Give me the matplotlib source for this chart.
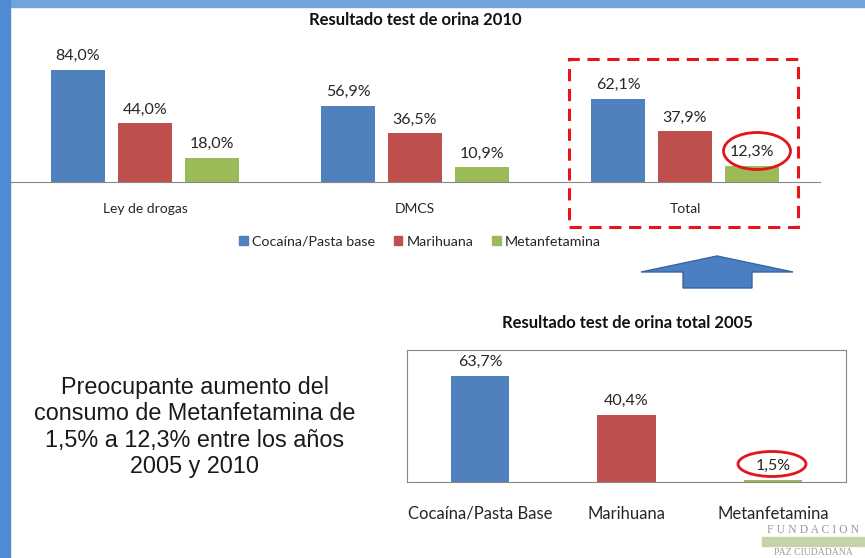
import numpy as np
import matplotlib
matplotlib.use("Agg")
import matplotlib.pyplot as plt
from matplotlib.patches import Rectangle, Ellipse, Polygon, Patch

# data
categories_2010 = ["Ley de drogas", "DMCS", "Total"]
cocaina_2010 = [84.0, 56.9, 62.1]
marihuana_2010 = [44.0, 36.5, 37.9]
metanfetamina_2010 = [18.0, 10.9, 12.3]
series_2010 = ["Cocaína/Pasta base", "Marihuana", "Metanfetamina"]

categories_2005 = ["Cocaína/Pasta Base", "Marihuana", "Metanfetamina"]
values_2005 = [63.7, 40.4, 1.5]

colors = ["#4f81bd", "#c0504d", "#9bbb59"]
txt = "#262626"
W, H = 865, 558


def pct(v):
    return f"{v:.1f}".replace(".", ",") + "%"


def box(x0, y0, x1, y1):
    # pixel box (top-left origin) -> figure fraction rect
    return [x0 / W, 1 - y1 / H, (x1 - x0) / W, (y1 - y0) / H]


def fp(x, y):
    return (x / W, 1 - y / H)


plt.rcParams["font.family"] = ["Lato", "DejaVu Sans"]
fig = plt.figure(figsize=(W / 100, H / 100), dpi=100)

# slide border
fig.patches.append(Rectangle((0, 1 - 7 / H), 1, 7 / H, transform=fig.transFigure,
                             color="#72a3dc", zorder=0))
fig.patches.append(Rectangle((0, 0), 10 / W, 1, transform=fig.transFigure,
                             color="#4f8bd4", zorder=0))

# ---- 2010 chart ----
ax1 = fig.add_axes(box(10, 30, 820, 182))
x = np.arange(len(categories_2010))
bw = 0.2
step = 0.248
for i, (name, vals) in enumerate(zip(series_2010,
                                      [cocaina_2010, marihuana_2010, metanfetamina_2010])):
    xs = x + (i - 1) * step
    ax1.bar(xs, vals, bw, color=colors[i], label=name)
    for xi, v in zip(xs, vals):
        ax1.annotate(pct(v), (xi, v), xytext=(0, 5), textcoords="offset points",
                     ha="center", va="bottom", fontsize=11.5, color=txt)
ax1.set_xlim(-0.5, 2.5)
ax1.set_ylim(0, 152 / 1.333)
for s in ["top", "left", "right"]:
    ax1.spines[s].set_visible(False)
ax1.spines["bottom"].set_color("#868686")
ax1.set_yticks([])
ax1.set_xticks(x)
ax1.set_xticklabels(categories_2010, fontsize=10, color=txt)
ax1.tick_params(axis="x", length=0, pad=15)
fig.text(415 / W, 1 - 20 / H, "Resultado test de orina 2010", ha="center", va="center",
         fontsize=12, fontweight="bold", color="#111111")

handles = [Patch(color=c) for c in colors]
fig.legend(handles, series_2010, loc="center", bbox_to_anchor=fp(420, 242), ncol=3,
           frameon=False, fontsize=10.3, handlelength=0.6, handleheight=0.6,
           handletextpad=0.3, columnspacing=1.3, labelcolor=txt)

# highlight on Total group
fig.patches.append(Rectangle(fp(569, 227), (798 - 569) / W, (227 - 59) / H,
                             transform=fig.transFigure, fill=False, ec="#e8141b",
                             lw=2.2, ls=(0, (4, 2.5)), zorder=5))
fig.patches.append(Ellipse(fp(757, 151), 67 / W, 37 / H, transform=fig.transFigure,
                           fill=False, ec="#e3141b", lw=2, zorder=5))

# arrow between the charts
arrow_pts = [(717, 256), (793, 272), (752, 272), (752, 288), (683, 288), (683, 272), (641, 272)]
fig.patches.append(Polygon([fp(a, b) for a, b in arrow_pts], closed=True,
                           transform=fig.transFigure, fc="#4a7fc1", ec="#3a65a0", lw=1))

# ---- 2005 chart ----
ax2 = fig.add_axes(box(407, 350, 846, 482))
x2 = np.arange(len(categories_2005))
ax2.bar(x2, values_2005, 0.4, color=colors)
for xi, v in zip(x2, values_2005):
    ax2.annotate(pct(v), (xi, v), xytext=(0, 5), textcoords="offset points",
                 ha="center", va="bottom", fontsize=11.5, color=txt)
ax2.set_xlim(-0.5, 2.5)
ax2.set_ylim(0, 132 / 1.664)
for s in ax2.spines.values():
    s.set_color("#868686")
ax2.set_yticks([])
ax2.set_xticks(x2)
ax2.set_xticklabels(categories_2005, fontsize=12, color=txt)
ax2.tick_params(axis="x", length=0, pad=17)
fig.text(627 / W, 1 - 323 / H, "Resultado test de orina total 2005", ha="center",
         va="center", fontsize=12, fontweight="bold", color="#111111")
fig.patches.append(Ellipse(fp(772, 464), 68 / W, 25 / H, transform=fig.transFigure,
                           fill=False, ec="#e3141b", lw=2, zorder=5))

# side note
fig.text(195 / W, 1 - 427 / H,
         "Preocupante aumento del\nconsumo de Metanfetamina de\n1,5% a 12,3% entre los años\n2005 y 2010",
         ha="center", va="center", fontsize=16.8, family="Liberation Sans",
         color="#1a1a1a", linespacing=1.2)

# logo
fig.text(813 / W, 1 - 530 / H, "F U N D A C I O N", ha="center", va="center",
         fontsize=8.5, family="Liberation Serif", color="#9a9a9a")
fig.patches.append(Rectangle(fp(762, 546), 103 / W, 9 / H, transform=fig.transFigure,
                             color="#c5d4a8"))
fig.text(813 / W, 1 - 557 / H, "PAZ CIUDADANA", ha="center", va="bottom",
         fontsize=7, family="Liberation Serif", color="#9a9a9a")

fig.savefig("out.png", dpi=100)
